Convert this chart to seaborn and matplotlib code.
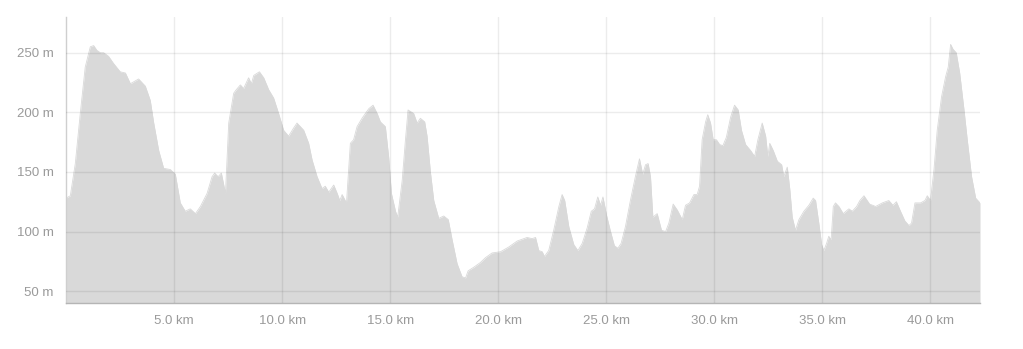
import numpy as np
import pandas as pd
import matplotlib
matplotlib.use("Agg")
import matplotlib.pyplot as plt
import seaborn as sns

# ---- data (distance km, elevation m) ----
distance_km = [
    0.0, 0.2, 0.43, 0.66, 0.89, 1.125, 1.28, 1.43, 1.59, 1.74, 1.97, 2.2, 2.51, 2.75, 2.98,
    3.36, 3.67, 3.9, 4.06, 4.29, 4.52, 4.83, 5.06, 5.29, 5.52, 5.75, 5.99, 6.22, 6.53, 6.76,
    6.88, 7.04, 7.19, 7.38, 7.53, 7.76, 7.88, 8.07, 8.22, 8.45, 8.58, 8.69, 8.95, 9.15, 9.38,
    9.61, 9.84, 10.07, 10.3, 10.54, 10.69, 11.0, 11.23, 11.39, 11.62, 11.85, 12.0, 12.16,
    12.39, 12.55, 12.67, 12.78, 12.98, 13.16, 13.31, 13.47, 13.7, 14.01, 14.21, 14.4, 14.55,
    14.78, 14.93, 15.06, 15.25, 15.35, 15.56, 15.71, 15.83, 16.09, 16.25, 16.4, 16.6, 16.71,
    16.87, 17.02, 17.25, 17.48, 17.69, 17.87, 18.1, 18.33, 18.49, 18.61, 18.87, 19.18, 19.41,
    19.72, 20.11, 20.49, 20.88, 21.19, 21.34, 21.57, 21.73, 21.88, 22.04, 22.14, 22.34, 22.57,
    22.81, 22.96, 23.08, 23.27, 23.5, 23.69, 23.89, 24.12, 24.31, 24.46, 24.61, 24.74, 24.85,
    25.01, 25.2, 25.38, 25.54, 25.69, 25.89, 26.12, 26.35, 26.54, 26.69, 26.82, 26.94, 27.05,
    27.16, 27.36, 27.56, 27.75, 27.9, 28.1, 28.29, 28.52, 28.67, 28.86, 29.06, 29.21, 29.32,
    29.44, 29.6, 29.7, 29.83, 29.95, 30.1, 30.25, 30.4, 30.56, 30.76, 30.94, 31.11, 31.26,
    31.45, 31.68, 31.87, 32.02, 32.22, 32.38, 32.48, 32.57, 32.73, 32.92, 33.12, 33.22, 33.38,
    33.5, 33.61, 33.76, 33.92, 34.15, 34.38, 34.58, 34.69, 34.84, 34.97, 35.07, 35.2, 35.3,
    35.41, 35.51, 35.61, 35.77, 35.97, 36.23, 36.39, 36.59, 36.74, 36.93, 37.19, 37.47, 37.78,
    38.08, 38.27, 38.43, 38.62, 38.82, 39.01, 39.13, 39.29, 39.55, 39.75, 39.86, 40.01, 40.17,
    40.32, 40.52, 40.71, 40.83, 40.94, 41.05, 41.2, 41.36, 41.56, 41.71, 41.91, 42.1, 42.25,
    42.3,
]
elevation_m = [
    128, 130, 157, 199, 238, 255, 256, 252, 250, 250, 247, 241, 234, 233, 224,
    228, 222, 210, 191, 168, 153, 152, 148, 124, 117, 119, 115, 121, 132, 146,
    149, 146, 149, 132, 191, 216, 219, 223, 220, 229, 224, 231, 234, 229, 219,
    212, 199, 185, 180, 187, 191, 185, 174, 160, 146, 136, 138, 133,
    139, 132, 126, 131, 124, 174, 177, 188, 195, 203, 206, 199, 192,
    188, 163, 132, 117, 112, 143, 177, 202, 199, 191, 195, 192, 180,
    149, 126, 111, 113, 110, 93, 73, 62, 61, 67, 70, 74, 78,
    82, 83, 87, 92, 94, 95, 94, 95, 84, 83, 79, 84, 101,
    121, 131, 126, 104, 89, 84, 90, 103, 117, 119, 129, 122, 129,
    114, 100, 88, 86, 90, 104, 126, 146, 161, 148, 156, 157, 146,
    112, 115, 101, 100, 107, 123, 118, 110, 122, 124, 131, 131, 138,
    177, 192, 198, 191, 177, 177, 173, 172, 179, 196, 206, 202, 185,
    173, 168, 163, 177, 191, 180, 163, 174, 168, 159, 156, 146, 154,
    135, 112, 101, 110, 117, 122, 128, 126, 107, 89, 84, 90, 96,
    93, 121, 124, 121, 115, 119, 117, 121, 126, 130, 123, 121, 124,
    126, 122, 125, 117, 109, 105, 107, 124, 124, 126, 130, 126, 152,
    185, 213, 230, 238, 257, 253, 250, 233, 202, 177, 146, 128, 125,
    124,
]

x_ticks = [5, 10, 15, 20, 25, 30, 35, 40]
x_tick_labels = ["5.0 km", "10.0 km", "15.0 km", "20.0 km", "25.0 km", "30.0 km", "35.0 km", "40.0 km"]
y_ticks = [50, 100, 150, 200, 250]
y_tick_labels = ["50 m", "100 m", "150 m", "200 m", "250 m"]

df = pd.DataFrame({"distance": distance_km, "elevation": elevation_m})

sns.set_theme(style="white")
plt.rcParams["font.family"] = ["Liberation Sans", "DejaVu Sans"]

fig = plt.figure(figsize=(10.23, 3.49), dpi=100)
ax = fig.add_axes([66 / 1023, 46 / 349, (980 - 66) / 1023, (303 - 17) / 349])

fill_color = "#d9d9d9"
ax.fill_between(df["distance"], df["elevation"], 0, color=fill_color, linewidth=0, zorder=1)
sns.lineplot(data=df, x="distance", y="elevation", ax=ax, color=fill_color, linewidth=0.6,
             zorder=1, sort=False)

ax.set_xlim(0, 42.3)
ax.set_ylim(40, 280)

ax.set_xticks(x_ticks)
ax.set_xticklabels(x_tick_labels)
ax.set_yticks(y_ticks)
ax.set_yticklabels(y_tick_labels)
ax.set_xlabel("")
ax.set_ylabel("")

# spine-end ticks (minor)
ax.set_xticks([0, 42.3], minor=True)
ax.set_yticks([40], minor=True)

label_color = "#9a9a9a"
ax.tick_params(axis="x", which="major", length=0, pad=9, labelsize=9.5, colors=label_color)
ax.tick_params(axis="y", which="major", length=0, pad=9, labelsize=9.5, colors=label_color)
ax.tick_params(axis="x", which="minor", length=5, width=0.8, color="#c4c4c4", direction="out")
ax.tick_params(axis="y", which="minor", length=4.5, width=0.8, color="#c4c4c4", direction="out")

ax.grid(True, which="major", color="black", alpha=0.075, linewidth=1.0)
ax.grid(False, which="minor")
ax.set_axisbelow(False)

for side in ["top", "right"]:
    ax.spines[side].set_visible(False)
ax.spines["left"].set_color("#cfcfcf")
ax.spines["left"].set_linewidth(1.0)
ax.spines["bottom"].set_color("#b5b5b5")
ax.spines["bottom"].set_linewidth(1.0)

fig.savefig("out.png", dpi=100, facecolor="white")
